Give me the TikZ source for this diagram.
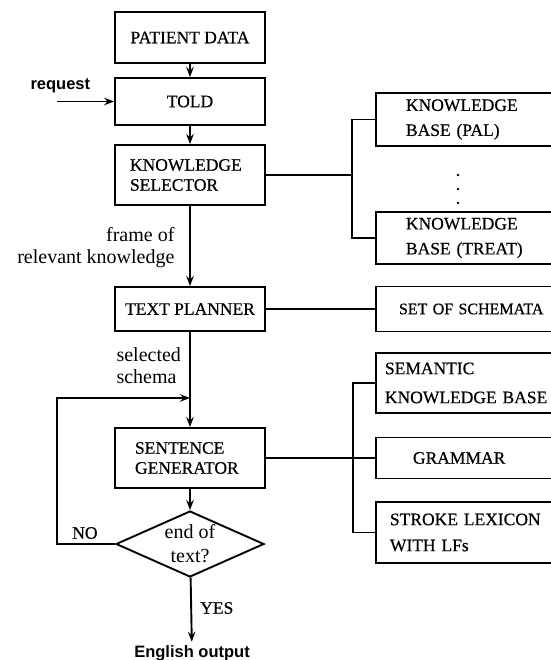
\documentclass[tikz,border=0pt]{standalone}
\usepackage{fontspec}
\setmainfont{Liberation Serif}
\newfontfamily\boxfont{Liberation Serif}[FakeBold=0.5]
\newfontfamily\labsans{Liberation Sans}
\usetikzlibrary{arrows.meta,shapes.geometric}

\tikzset{
  box/.style={draw, line width=1.9pt, font=\boxfont\fontsize{17.5}{20}\selectfont, inner ysep=0pt},
  lbox/.style={box, minimum width=150pt, align=center},
  rbox/.style={box, anchor=west, text width=200pt, align=left},
  decision/.style={draw, line width=1.9pt, diamond, aspect=2.24, inner sep=0pt,
    minimum width=148pt, minimum height=66pt, align=center,
    font=\fontsize{20}{24}\selectfont},
  conn/.style={line width=1.9pt},
  flow/.style={conn, -{Stealth[length=10pt,width=7.5pt,inset=3.5pt]}},
  lab/.style={font=\fontsize{20}{22}\selectfont},
  slab/.style={font=\labsans\bfseries\fontsize{16.5}{18}\selectfont}
}

\begin{document}
\begin{tikzpicture}[x=1pt,y=-1pt]
            \useasboundingbox (0,0) rectangle (550,660);

            % main column
            \node[lbox, minimum height=51pt] (pat) at (190,37.5) {PATIENT DATA};
            \node[lbox, minimum height=47pt] (told) at (190,101.5) {TOLD};
            \node[lbox, minimum height=60pt, text width=120pt, inner xsep=15pt, align=left] (ksel) at (190,175) {KNOWLEDGE\\SELECTOR};
            \node[lbox, minimum height=44pt] (tplan) at (190,309) {TEXT PLANNER};
            \node[lbox, minimum height=60pt, text width=110pt, inner xsep=20pt, align=left] (sgen) at (190,458) {SENTENCE\\GENERATOR};
            \node[decision] (endt) at (190,544) {end of\\text?};
            \node[slab] (out) at (192,653) {English output};

            % knowledge bases
            \node[rbox, minimum height=53pt, inner xsep=30pt, font=\boxfont\fontsize{17.5}{25}\selectfont] (kbpal) at (375,119.5) {KNOWLEDGE\\BASE (PAL)};
            \node[rbox, minimum height=52pt, inner xsep=30pt, font=\boxfont\fontsize{17.5}{25}\selectfont] (kbtreat) at (375,238) {KNOWLEDGE\\BASE (TREAT)};
            \node[rbox, minimum height=45pt, inner xsep=23pt, font=\boxfont\fontsize{16}{20}\selectfont] (schem) at (375,309) {SET OF SCHEMATA};
            \node[rbox, minimum height=60pt, inner xsep=9pt, font=\boxfont\fontsize{17.5}{29}\selectfont] (sem) at (375,383) {SEMANTIC\\KNOWLEDGE BASE};
            \node[rbox, minimum height=41pt, inner xsep=37pt] (gram) at (375,458) {GRAMMAR};
            \node[rbox, minimum height=61pt, inner xsep=14pt, font=\boxfont\fontsize{17.5}{26}\selectfont] (stroke) at (375,532.5) {STROKE LEXICON\\WITH LFs};

            \fill (458,175) circle (1.4pt) (458,189) circle (1.4pt) (458,203) circle (1.4pt);

            \coordinate (req) at (57,101.5);
            \coordinate (kspine) at (352,175);
            \coordinate (gspine) at (353,458);
            \coordinate (join) at (190,398);
            \coordinate (loop) at (57,398);

            \draw[flow] (pat) -- (told);
            \draw[flow] (told) -- (ksel);
            \draw[flow] (ksel) -- (tplan);
            \draw[flow] (tplan) -- (sgen);
            \draw[flow] (sgen) -- (endt);
            \draw[flow] (endt) -- (out);
            \draw[flow] (req) -- (told);
            \draw[flow] (endt.west) -| (loop) -- (join);

            \draw[conn] (ksel) -- (kspine);
            \draw[conn] (kbpal.west) -| (kspine) |- (kbtreat.west);
            \draw[conn] (tplan) -- (schem);
            \draw[conn] (sgen) -- (gram);
            \draw[conn] (sem.west) -| (gspine) |- (stroke.west);

            \node[slab, anchor=south west] (reqlab) at (27,96) {request};
            \node[lab, align=right, anchor=east] (framelab) at (178,248) {frame of\\relevant knowledge};
            \node[lab, align=left, anchor=west] (schlab) at (113,366) {selected\\schema};
            \node[box, draw=none, anchor=west] (nolab) at (68,533) {NO};
            \node[box, draw=none, anchor=west] (yeslab) at (196,608) {YES};
        \end{tikzpicture}
\end{document}
